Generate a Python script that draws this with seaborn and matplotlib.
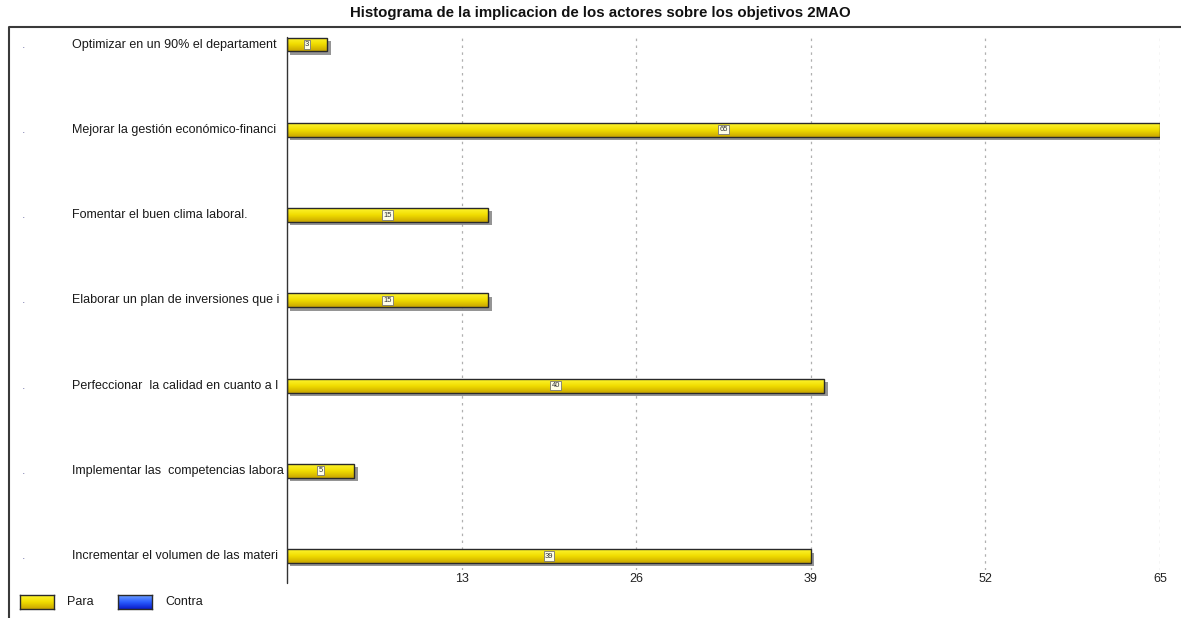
import numpy as np
import pandas as pd
import matplotlib
matplotlib.use("Agg")
import matplotlib.pyplot as plt
import matplotlib.patheffects as pe
from matplotlib.patches import Rectangle
from matplotlib.lines import Line2D
from matplotlib.colors import LinearSegmentedColormap
import seaborn as sns

# datos
objetivos = [
    "Optimizar en un 90% el departament",
    "Mejorar la gestión económico-financi",
    "Fomentar el buen clima laboral.",
    "Elaborar un plan de inversiones que i",
    "Perfeccionar  la calidad en cuanto a l",
    "Implementar las  competencias labora",
    "Incrementar el volumen de las materi",
]
para = [3, 65, 15, 15, 40, 5, 39]
ticks = [13, 26, 39, 52, 65]
titulo = "Histograma de la implicacion de los actores sobre los objetivos 2MAO"

sns.set_theme(style="white")
plt.rcParams['font.family'] = ['Liberation Sans', 'DejaVu Sans']

W, H = 1181, 618
fig = plt.figure(figsize=(W / 100, H / 100), dpi=100)
fig.patch.set_facecolor("white")

# eje principal (pixeles -> fraccion)
left, right, top, bottom = 287, 1160, 37, 570
ax = fig.add_axes([left / W, 1 - bottom / H, (right - left) / W, (bottom - top) / H])

df = pd.DataFrame({"objetivo": objetivos, "para": para})
bar_h = 0.164
sns.barplot(data=df, x="para", y="objetivo", orient="h", color="#E8D000",
            width=bar_h, ax=ax, saturation=1, edgecolor="none", linewidth=0)

grad = np.linspace(0, 1, 64).reshape(-1, 1)
cmap = LinearSegmentedColormap.from_list("oro", ["#FFF530", "#F0DC00", "#C9A600"])
for p in list(ax.patches):
    x0, y0, w, h = p.get_x(), p.get_y(), p.get_width(), p.get_height()
    p.set_path_effects([pe.SimplePatchShadow(offset=(2.5, -2.5), shadow_rgbFace="#8a8a8a", alpha=0.9),
                        pe.Normal()])
    p.set_zorder(2)
    im = ax.imshow(grad, extent=[x0, x0 + w, y0 + h, y0], aspect="auto", cmap=cmap,
                   zorder=2.5, interpolation="bilinear")
    im.set_clip_path(p)
    ax.add_patch(Rectangle((x0, y0), w, h, fill=False, edgecolor="#2a2a2a", lw=1.0, zorder=3))
    ax.text(x0 + w / 2, y0 + h / 2, f"{int(w)}", ha="center", va="center", fontsize=5.5,
            color="#333333", zorder=4,
            bbox=dict(boxstyle="square,pad=0.15", facecolor="#FFFFE8", edgecolor="#777777", lw=0.6))

ax.set_aspect("auto")
ax.set_xlim(0, 65)
ax.set_ylim(6.164, -0.088)

# rejilla
for t in ticks:
    ax.axvline(t, color="#b0b0b0", lw=0.9, ls=(0, (2, 3.5)), zorder=1)

for s in ["top", "right", "bottom", "left"]:
    ax.spines[s].set_visible(False)
ax.axvline(0, ymin=-0.025, ymax=1, color="#333333", lw=1.0, clip_on=False, zorder=5)

ax.set_xticks(ticks)
ax.set_xticklabels([str(t) for t in ticks], fontsize=9, color="#222222")
ax.tick_params(axis="x", length=0, pad=2)
ax.set_yticks([])
ax.set_xlabel("")
ax.set_ylabel("")

# etiquetas de objetivos
for i, nombre in enumerate(objetivos):
    ax.text((72 - left) / (right - left), i, nombre, transform=ax.get_yaxis_transform(),
            ha="left", va="center", fontsize=9, color="#1a1a1a")
    ax.text((22 - left) / (right - left), i, ".", transform=ax.get_yaxis_transform(),
            ha="left", va="center", fontsize=9, color="#8080b0")

# titulo
fig.text(600 / W, 1 - 13 / H, titulo, ha="center", va="center", fontsize=10.8, fontweight="bold",
         color="#111111")

# marco
fig.add_artist(Line2D([9 / W, 9 / W, 1.0], [0.0, 1 - 27 / H, 1 - 27 / H],
                      color="#3a3a3a", lw=1.5, transform=fig.transFigure))

# leyenda
def caja(x, colores, texto):
    cm = LinearSegmentedColormap.from_list("c", colores)
    axl = fig.add_axes([x / W, 1 - 609 / H, 34 / W, 14 / H])
    axl.imshow(np.linspace(0, 1, 32).reshape(-1, 1), aspect="auto", cmap=cm)
    axl.set_xticks([])
    axl.set_yticks([])
    for s in axl.spines.values():
        s.set_visible(True)
        s.set_color("#2a2a2a")
        s.set_linewidth(1.0)
    fig.text((x + 47) / W, 1 - 602 / H, texto, ha="left", va="center", fontsize=9, color="#1a1a1a")

caja(20, ["#FFF530", "#F0DC00", "#C9A600"], "Para")
caja(118, ["#6fa0ff", "#2a5cff", "#0a1ecc"], "Contra")

fig.savefig("out.png", dpi=100)
